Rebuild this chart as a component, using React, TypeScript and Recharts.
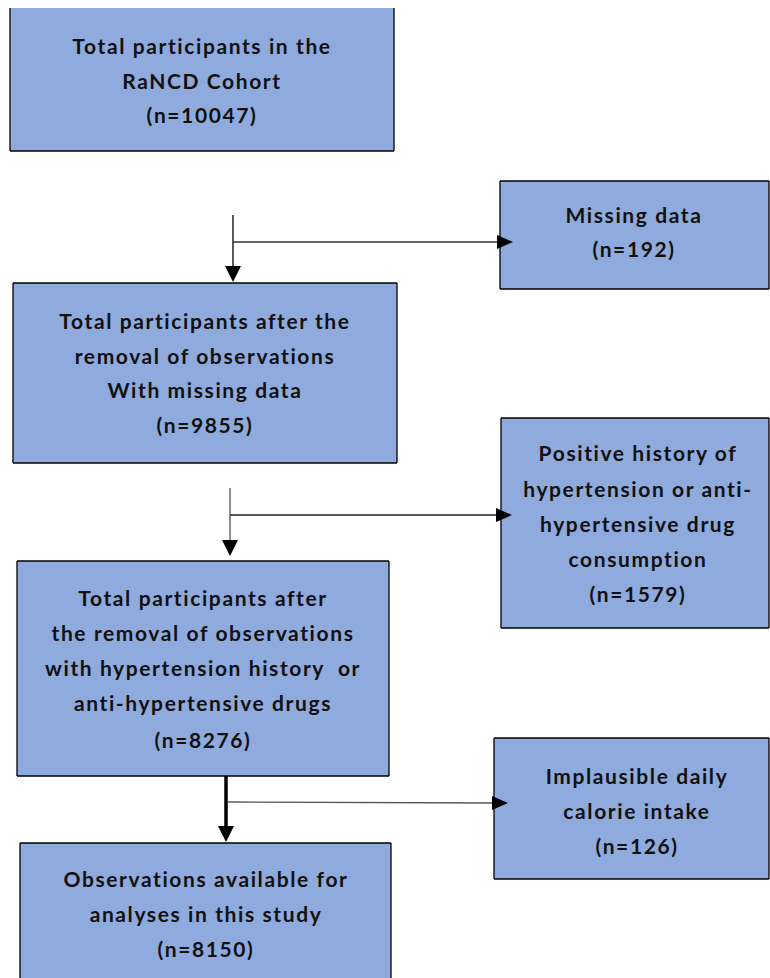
import React from "react";
import { ComposedChart, XAxis, YAxis, ReferenceArea, ReferenceLine, Scatter } from "recharts";

const W = 770;
const H = 978;
const FILL = "#8FAADC";

// Boxes (data coordinates = pixel space of the flowchart)
const boxes = [
  { id: "b1", x1: 10, x2: 394, y1: 8, y2: 151, top: false, bottom: true },
  { id: "b2", x1: 500, x2: 769, y1: 181, y2: 289, top: true, bottom: true },
  { id: "b3", x1: 13, x2: 397, y1: 283, y2: 463, top: true, bottom: true },
  { id: "b4", x1: 501, x2: 769, y1: 418, y2: 628, top: true, bottom: true },
  { id: "b5", x1: 17, x2: 389, y1: 561, y2: 776, top: true, bottom: true },
  { id: "b6", x1: 494, x2: 769, y1: 738, y2: 879, top: true, bottom: true },
  { id: "b7", x1: 20, x2: 391, y1: 843, y2: 978, top: true, bottom: false },
];

// Text lines
const labels = [
  { x: 202, y: 45, text: "Total participants in the" },
  { x: 202, y: 80, text: "RaNCD Cohort" },
  { x: 202, y: 114, text: "(n=10047)" },
  { x: 634, y: 214, text: "Missing data" },
  { x: 634, y: 248, text: "(n=192)" },
  { x: 205, y: 320, text: "Total participants after the" },
  { x: 205, y: 355, text: "removal of observations" },
  { x: 205, y: 389, text: "With missing data" },
  { x: 205, y: 424, text: "(n=9855)" },
  { x: 638, y: 452, text: "Positive history of" },
  { x: 638, y: 488, text: "hypertension or anti-" },
  { x: 638, y: 523, text: "hypertensive drug" },
  { x: 638, y: 558, text: "consumption" },
  { x: 638, y: 593, text: "(n=1579)" },
  { x: 203, y: 597, text: "Total participants after" },
  { x: 203, y: 632, text: "the removal of observations" },
  { x: 203, y: 667, text: "with hypertension history  or" },
  { x: 203, y: 702, text: "anti-hypertensive drugs" },
  { x: 203, y: 739, text: "(n=8276)" },
  { x: 637, y: 775, text: "Implausible daily" },
  { x: 637, y: 810, text: "calorie intake" },
  { x: 637, y: 845, text: "(n=126)" },
  { x: 206, y: 878, text: "Observations available for" },
  { x: 206, y: 913, text: "analyses in this study" },
  { x: 206, y: 948, text: "(n=8150)" },
];

// Connector lines
const connectors = [
  { x1: 233, y1: 215, x2: 233, y2: 268, w: 1.5, c: "#222" },
  { x1: 233, y1: 242, x2: 500, y2: 242, w: 1.3, c: "#333" },
  { x1: 230, y1: 488, x2: 230, y2: 543, w: 1.3, c: "#555" },
  { x1: 230, y1: 515, x2: 500, y2: 515, w: 1.5, c: "#222" },
  { x1: 226, y1: 776, x2: 226, y2: 828, w: 3.5, c: "#000" },
  { x1: 227, y1: 802, x2: 495, y2: 803, w: 1.3, c: "#555" },
];

// Arrowheads: tip location and direction
const heads = [
  { x: 233, y: 282, dir: "down" },
  { x: 513, y: 242, dir: "right" },
  { x: 230, y: 556, dir: "down" },
  { x: 512, y: 515, dir: "right" },
  { x: 226, y: 842, dir: "down" },
  { x: 508, y: 803, dir: "right" },
];

const TextShape = (props: any) => {
  const { cx, cy, payload } = props;
  return (
    <text
      x={cx}
      y={cy}
      textAnchor="middle"
      dominantBaseline="central"
      fontFamily="Lato, 'Open Sans', sans-serif"
      fontWeight={700}
      fontSize={21}
      letterSpacing={1.6}
      fill="#111"
      style={{ whiteSpace: "pre" }}
    >
      {payload.text}
    </text>
  );
};

const HeadShape = (props: any) => {
  const { cx, cy, payload } = props;
  let d = "";
  if (payload.dir === "down") {
    d = `M${cx - 8},${cy - 16} L${cx + 8},${cy - 16} L${cx},${cy} Z`;
  } else {
    d = `M${cx - 16},${cy - 7} L${cx - 16},${cy + 7} L${cx},${cy} Z`;
  }
  return <path d={d} fill="#000" />;
};

export default function App() {
  return (
    <div style={{ position: "fixed", left: 0, top: 0, background: "#fff" }}>
      <ComposedChart width={W} height={H} margin={{ top: 0, right: 0, bottom: 0, left: 0 }}>
        <XAxis type="number" dataKey="x" domain={[0, W]} hide allowDataOverflow />
        <YAxis type="number" dataKey="y" domain={[0, H]} reversed hide allowDataOverflow />
        {boxes.map((b) => (
          <ReferenceArea
            key={b.id}
            x1={b.x1}
            x2={b.x2}
            y1={b.y1}
            y2={b.y2}
            fill={FILL}
            fillOpacity={1}
            stroke="none"
            ifOverflow="visible"
          />
        ))}
        {boxes.map((b) => (
          <ReferenceLine
            key={b.id + "l"}
            segment={[{ x: b.x1, y: b.y1 }, { x: b.x1, y: b.y2 }]}
            stroke="#000"
            strokeWidth={1.3}
            ifOverflow="visible"
          />
        ))}
        {boxes.map((b) => (
          <ReferenceLine
            key={b.id + "r"}
            segment={[{ x: b.x2, y: b.y1 }, { x: b.x2, y: b.y2 }]}
            stroke="#000"
            strokeWidth={1.3}
            ifOverflow="visible"
          />
        ))}
        {boxes.filter((b) => b.top).map((b) => (
          <ReferenceLine
            key={b.id + "t"}
            segment={[{ x: b.x1, y: b.y1 }, { x: b.x2, y: b.y1 }]}
            stroke="#000"
            strokeWidth={1.3}
            ifOverflow="visible"
          />
        ))}
        {boxes.filter((b) => b.bottom).map((b) => (
          <ReferenceLine
            key={b.id + "b"}
            segment={[{ x: b.x1, y: b.y2 }, { x: b.x2, y: b.y2 }]}
            stroke="#000"
            strokeWidth={1.3}
            ifOverflow="visible"
          />
        ))}
        {connectors.map((c, i) => (
          <ReferenceLine
            key={"c" + i}
            segment={[{ x: c.x1, y: c.y1 }, { x: c.x2, y: c.y2 }]}
            stroke={c.c}
            strokeWidth={c.w}
            ifOverflow="visible"
          />
        ))}
        <Scatter data={heads} dataKey="y" shape={<HeadShape />} isAnimationActive={false} />
        <Scatter data={labels} dataKey="y" shape={<TextShape />} isAnimationActive={false} />
      </ComposedChart>
    </div>
  );
}
